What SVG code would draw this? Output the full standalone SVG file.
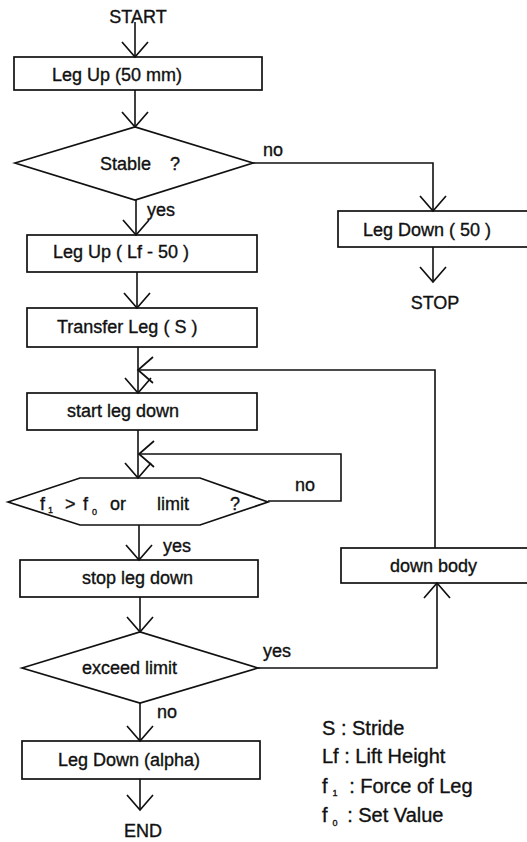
<svg xmlns="http://www.w3.org/2000/svg" width="527" height="842" viewBox="0 0 527 842">
<style>
  .bg { fill: #ffffff; }
  .shape { fill: none; stroke: #111; stroke-width: 1.7; }
  .conn { fill: none; stroke: #111; stroke-width: 1.6; }
  text { font-family: "Liberation Sans", Arial, sans-serif; font-size: 18px; fill: #111; stroke: #111; stroke-width: 0.35; }
  .legend { font-size: 20px; }
  .sub { font-size: 9px; }
</style>
<defs>
  <marker id="arr" viewBox="-17 -15 19 30" refX="0" refY="0" markerWidth="19" markerHeight="30" markerUnits="userSpaceOnUse" orient="auto">
    <path d="M-15,-13 L0,0 L-15,13" fill="none" stroke="#111" stroke-width="1.7"/>
  </marker>
</defs>
<rect class="bg" x="0" y="0" width="527" height="842"/>

<g id="connectors">
  <path class="conn" d="M135,22 V57" marker-end="url(#arr)"/>
  <path class="conn" d="M135,90 V127" marker-end="url(#arr)"/>
  <path class="conn" d="M136,200 V235" marker-end="url(#arr)"/>
  <path class="conn" d="M137,272 V308" marker-end="url(#arr)"/>
  <path class="conn" d="M138,347 V393" marker-end="url(#arr)"/>
  <path class="conn" d="M435,548 V370 H138" marker-end="url(#arr)"/>
  <path class="conn" d="M138,430 V478" marker-end="url(#arr)"/>
  <path class="conn" d="M268,501 H341 V454 H139" marker-end="url(#arr)"/>
  <path class="conn" d="M139,525 V560" marker-end="url(#arr)"/>
  <path class="conn" d="M140,597 V632" marker-end="url(#arr)"/>
  <path class="conn" d="M140,703 V741" marker-end="url(#arr)"/>
  <path class="conn" d="M140,779 V810" marker-end="url(#arr)"/>
  <path class="conn" d="M253,163 H433 V211" marker-end="url(#arr)"/>
  <path class="conn" d="M433,247 V282" marker-end="url(#arr)"/>
  <path class="conn" d="M258,668 H437 V583" marker-end="url(#arr)"/>
  <text x="263" y="156">no</text>
  <text x="147" y="216">yes</text>
  <text x="295" y="491">no</text>
  <text x="163" y="552">yes</text>
  <text x="263" y="657">yes</text>
  <text x="157" y="718">no</text>
</g>

<g id="start">
  <text x="138" y="23" text-anchor="middle">START</text>
</g>

<g id="leg-up-50">
  <rect class="shape" x="14" y="57" width="248" height="33"/>
  <text x="52" y="81">Leg Up (50 mm)</text>
</g>

<g id="stable">
  <polygon class="shape" points="15,163 135,127 253,163 135,200"/>
  <text x="100" y="170">Stable</text>
  <text x="170" y="170">?</text>
</g>

<g id="leg-down-50">
  <rect class="shape" x="338" y="211" width="200" height="36"/>
  <text x="363" y="236">Leg Down ( 50 )</text>
</g>

<g id="stop">
  <text x="435" y="309" text-anchor="middle">STOP</text>
</g>

<g id="leg-up-lf">
  <rect class="shape" x="27" y="235" width="230" height="37"/>
  <text x="53" y="258">Leg Up ( Lf - 50 )</text>
</g>

<g id="transfer-leg">
  <rect class="shape" x="27" y="308" width="230" height="39"/>
  <text x="57" y="333">Transfer Leg ( S )</text>
</g>

<g id="start-leg-down">
  <rect class="shape" x="27" y="393" width="230" height="37"/>
  <text x="67" y="417">start leg down</text>
</g>

<g id="force-check">
  <polygon class="shape" points="8,502 80,478 200,478 268,502 200,525 80,525"/>
  <text x="40" y="510">f<tspan class="sub" dx="3" dy="3">1</tspan></text>
  <text x="65" y="510">&gt;</text>
  <text x="83" y="510">f<tspan class="sub" dx="4" dy="5">0</tspan></text>
  <text x="110" y="510">or</text>
  <text x="157" y="510">limit</text>
  <text x="230" y="510">?</text>
</g>

<g id="stop-leg-down">
  <rect class="shape" x="20" y="560" width="238" height="37"/>
  <text x="82" y="584">stop leg down</text>
</g>

<g id="exceed-limit">
  <polygon class="shape" points="22,668 140,632 258,668 140,703"/>
  <text x="82" y="674">exceed limit</text>
</g>

<g id="down-body">
  <rect class="shape" x="341" y="548" width="200" height="35"/>
  <text x="390" y="572">down body</text>
</g>

<g id="leg-down-alpha">
  <rect class="shape" x="22" y="741" width="238" height="38"/>
  <text x="58" y="766">Leg Down (alpha)</text>
</g>

<g id="end">
  <text x="143" y="837" text-anchor="middle">END</text>
</g>

<g id="legend">
  <text class="legend" x="322" y="735">S : Stride</text>
  <text class="legend" x="322" y="763">Lf : Lift Height</text>
  <text class="legend" x="322" y="793">f<tspan class="sub" dx="5" dy="3">1</tspan><tspan dx="6" dy="-3"> : Force of Leg</tspan></text>
  <text class="legend" x="322" y="822">f<tspan class="sub" dx="5" dy="4">0</tspan><tspan dx="4" dy="-4"> : Set Value</tspan></text>
</g>
</svg>
